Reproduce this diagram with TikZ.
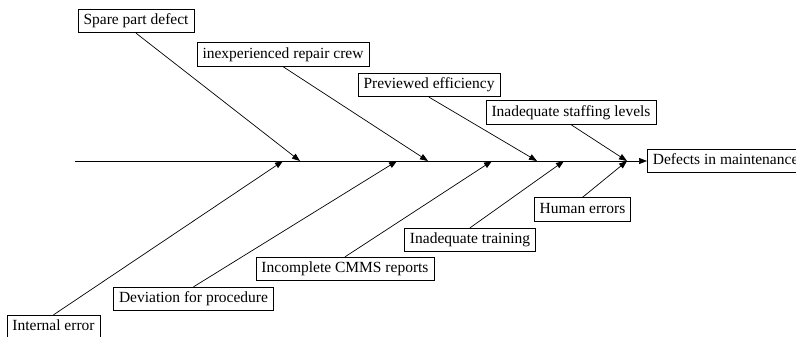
\documentclass[tikz,border=0pt]{standalone}
\usepackage{fontspec}
\setmainfont{Liberation Serif}
\usetikzlibrary{arrows.meta}

\tikzset{
    cause/.style={draw, line width=0.8pt, fill=white, inner xsep=5.5pt, inner ysep=4.5pt,
        text height=11pt, text depth=3.5pt, font=\fontsize{15.5}{18}\selectfont},
    bone/.style={line width=0.7pt, -{Triangle[length=8pt, width=6pt]}}
}

\begin{document}
\begin{tikzpicture}[x=1pt, y=-1pt]
    \useasboundingbox (0,0) rectangle (796,337);

    % Hauptachse
    \node[cause, anchor=west] (effect) at (647,161) {Defects in maintenance};
    \coordinate (tail) at (75,161);
    \draw[bone] (tail) -- (effect.west);

    % Ursachen oben
    \node[cause] (spare) at (136,21) {Spare part defect};
    \node[cause] (crew) at (283,54.5) {inexperienced repair crew};
    \node[cause] (eff) at (429,85) {Previewed efficiency};
    \node[cause] (staff) at (571,112.5) {Inadequate staffing levels};

    \coordinate (t1) at (300,161);
    \coordinate (t2) at (428,161);
    \coordinate (t3) at (537,161);
    \coordinate (t4) at (627,161);

    \draw[bone] (spare.south) -- (t1);
    \draw[bone] (crew.south) -- (t2);
    \draw[bone] (eff.south) -- (t3);
    \draw[bone] (staff.south) -- (t4);

    % Ursachen unten
    \node[cause] (internal) at (53.5,327) {Internal error};
    \node[cause] (deviation) at (193.5,299) {Deviation for procedure};
    \node[cause] (cmms) at (345,269) {Incomplete CMMS reports};
    \node[cause] (training) at (470,240) {Inadequate training};
    \node[cause] (human) at (582.5,209.5) {Human errors};

    \coordinate (b1) at (283,161);
    \coordinate (b2) at (397,161);
    \coordinate (b3) at (492,161);
    \coordinate (b4) at (564,161);
    \coordinate (b5) at (627,161);

    \draw[bone] (internal.north) -- (b1);
    \draw[bone] (deviation.north) -- (b2);
    \draw[bone] (cmms.north) -- (b3);
    \draw[bone] (training.north) -- (b4);
    \draw[bone] (human.north) -- (b5);
\end{tikzpicture}
\end{document}
